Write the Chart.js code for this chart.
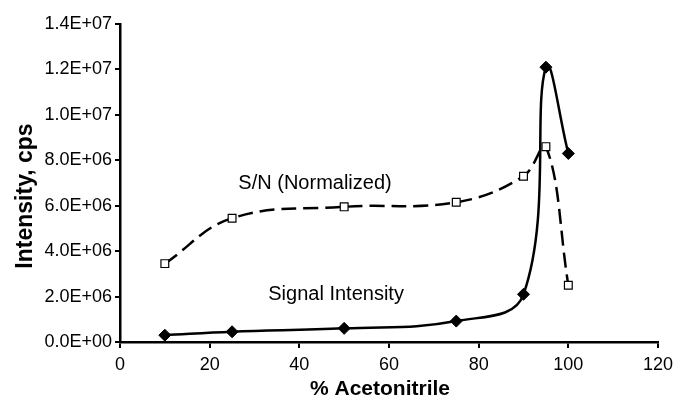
<!DOCTYPE html>
<html><head><meta charset="utf-8">
<script src="https://cdn.jsdelivr.net/npm/chart.js@4/dist/chart.umd.min.js"></script>
<style>html,body{margin:0;padding:0;background:#fff}#w{width:677px;height:399px}</style>
</head><body><div id="w"><canvas id="c"></canvas></div>
<script>
const acetonitrile = [10, 25, 50, 75, 90, 95, 100];
const signalIntensity = [3.0e5, 4.5e5, 6.0e5, 9.2e5, 2.1e6, 1.21e7, 8.3e6];
const snNormalized = [3.45e6, 5.45e6, 5.95e6, 6.15e6, 7.3e6, 8.6e6, 2.5e6];
const yTicks = [0, 2e6, 4e6, 6e6, 8e6, 1e7, 1.2e7, 1.4e7];
const xTicks = [0, 20, 40, 60, 80, 100, 120];
const xTitle = '% Acetonitrile';
const yTitle = 'Intensity, cps';
const seriesLabels = [
  {text: 'S/N (Normalized)', x: 43.5, y: 6.96e6},
  {text: 'Signal Intensity', x: 48.2, y: 2.07e6}
];
function fmt(v){
  if (v === 0) return '0.0E+00';
  const e = Math.floor(Math.log10(Math.abs(v)) + 1e-9);
  const m = v / Math.pow(10, e);
  return m.toFixed(1) + 'E+' + String(e).padStart(2, '0');
}
const FONT = '"Liberation Sans", Arial, sans-serif';
const textPlugin = {
  id: 'txt',
  afterDatasetsDraw(chart){
    const {ctx, scales:{x, y}, chartArea} = chart;
    ctx.save();
    ctx.fillStyle = '#000';
    ctx.font = '20px ' + FONT;
    ctx.textAlign = 'center';
    ctx.textBaseline = 'middle';
    seriesLabels.forEach(l => ctx.fillText(l.text, x.getPixelForValue(l.x), y.getPixelForValue(l.y)));
    ctx.font = 'bold 21px ' + FONT;
    ctx.textBaseline = 'alphabetic';
    ctx.fillText(xTitle, (chartArea.left + chartArea.right) / 2 - 9, 395);
    ctx.translate(32, (chartArea.top + chartArea.bottom) / 2 + 13);
    ctx.rotate(-Math.PI / 2);
    ctx.font = 'bold 23px ' + FONT;
    ctx.fillText(yTitle, 0, 0);
    ctx.restore();
  }
};
new Chart(document.getElementById('c'), {
  type: 'line',
  data: {
    datasets: [
      {
        label: 'Signal Intensity',
        data: acetonitrile.map((a, i) => ({x: a, y: signalIntensity[i]})),
        borderColor: '#000', borderWidth: 2.5,
        pointStyle: 'rectRot', pointRadius: 6, pointBackgroundColor: '#000', pointBorderColor: '#000', pointBorderWidth: 1,
        tension: 0.4, fill: false
      },
      {
        label: 'S/N (Normalized)',
        data: acetonitrile.map((a, i) => ({x: a, y: snNormalized[i]})),
        borderColor: '#000', borderWidth: 2.5, borderDash: [15, 7],
        pointStyle: 'rect', pointRadius: 5.5, pointBackgroundColor: '#fff', pointBorderColor: '#000', pointBorderWidth: 1.2,
        tension: 0.4, fill: false
      }
    ]
  },
  options: {
    responsive: true, maintainAspectRatio: false, animation: false,
    layout: {padding: {top: 24, right: 19, bottom: 0, left: 0}},
    plugins: {legend: {display: false}, tooltip: {enabled: false}},
    scales: {
      x: {
        type: 'linear', min: 0, max: 120,
        afterBuildTicks(s){ s.ticks = xTicks.map(v => ({value: v})); },
        afterFit(s){ s.height = 57; s.paddingRight = 0; s.paddingLeft = 0; },
        grid: {display: true, drawOnChartArea: false, drawTicks: true, tickLength: 6, color: '#000', lineWidth: 2},
        border: {display: true, color: '#000', width: 2.5},
        ticks: {color: '#000', font: {family: FONT, size: 18}, padding: 6, maxRotation: 0},
        title: {display: false}
      },
      y: {
        type: 'linear', min: 0, max: 1.4e7,
        afterBuildTicks(s){ s.ticks = yTicks.map(v => ({value: v})); },
        afterFit(s){ s.width = 120; s.paddingTop = 0; s.paddingBottom = 0; },
        grid: {display: true, drawOnChartArea: false, drawTicks: true, tickLength: 5, color: '#000', lineWidth: 2},
        border: {display: true, color: '#000', width: 2.5},
        ticks: {color: '#000', font: {family: FONT, size: 18}, padding: 3, callback: v => fmt(v)},
        title: {display: false}
      }
    }
  },
  plugins: [textPlugin]
});
</script></body></html>
